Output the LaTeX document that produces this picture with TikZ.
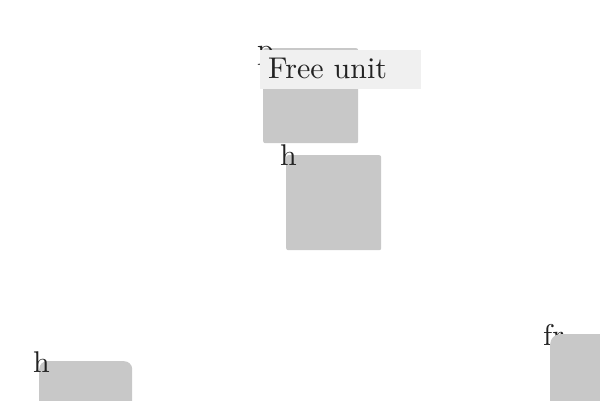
\documentclass[tikz,border=0pt]{standalone}
\usepackage{fontspec}
\setmainfont{lmroman10-regular.otf}
\usetikzlibrary{positioning}
\definecolor{unitgray}{HTML}{C8C8C8}
\definecolor{tipgray}{HTML}{F0F0F0}
\definecolor{inkgray}{HTML}{222222}

\begin{document}
\begin{tikzpicture}[x=1pt, y=-1pt,
    unit/.style={fill=unitgray, draw=none, inner sep=0pt, anchor=north west, rounded corners=2pt},
    tag/.style={inner sep=0pt, anchor=base west, text=inkgray, font=\fontsize{30}{36}\selectfont}]
    \useasboundingbox (0,0) rectangle (600,400);
    \clip (0,0) rectangle (600,400);
    % upper unit with its tip box on top
    \node[unit, minimum width=95pt, minimum height=95pt] (unitp) at (263,48) {};
    \node[tag] (tagp) at ([xshift=-6pt, yshift=-11pt]unitp.north west) {p};
    \node[fill=tipgray, inner sep=0pt, anchor=north west, minimum width=161pt, minimum height=39pt] (tip) at (260,50) {};
    \node[tag] (tiptext) at ([xshift=8pt, yshift=-28.5pt]tip.north west) {Free unit};
    % middle unit
    \node[unit, minimum width=95pt, minimum height=95pt] (unith) at (286,155) {};
    \node[tag] (tagh) at ([xshift=-6pt, yshift=-10.5pt]unith.north west) {h};
    % lower left unit
    \node[unit, rounded corners=8pt, minimum width=93pt, minimum height=90pt] (unitl) at (39,361) {};
    \node[tag] (tagl) at ([xshift=-6pt, yshift=-11pt]unitl.north west) {h};
    % lower right unit, drawn over its tag
    \node[tag] (tagr) at (543,345) {fr};
    \node[unit, rounded corners=10pt, minimum width=90pt, minimum height=100pt] (unitr) at (550,334) {};
\end{tikzpicture}
\end{document}
